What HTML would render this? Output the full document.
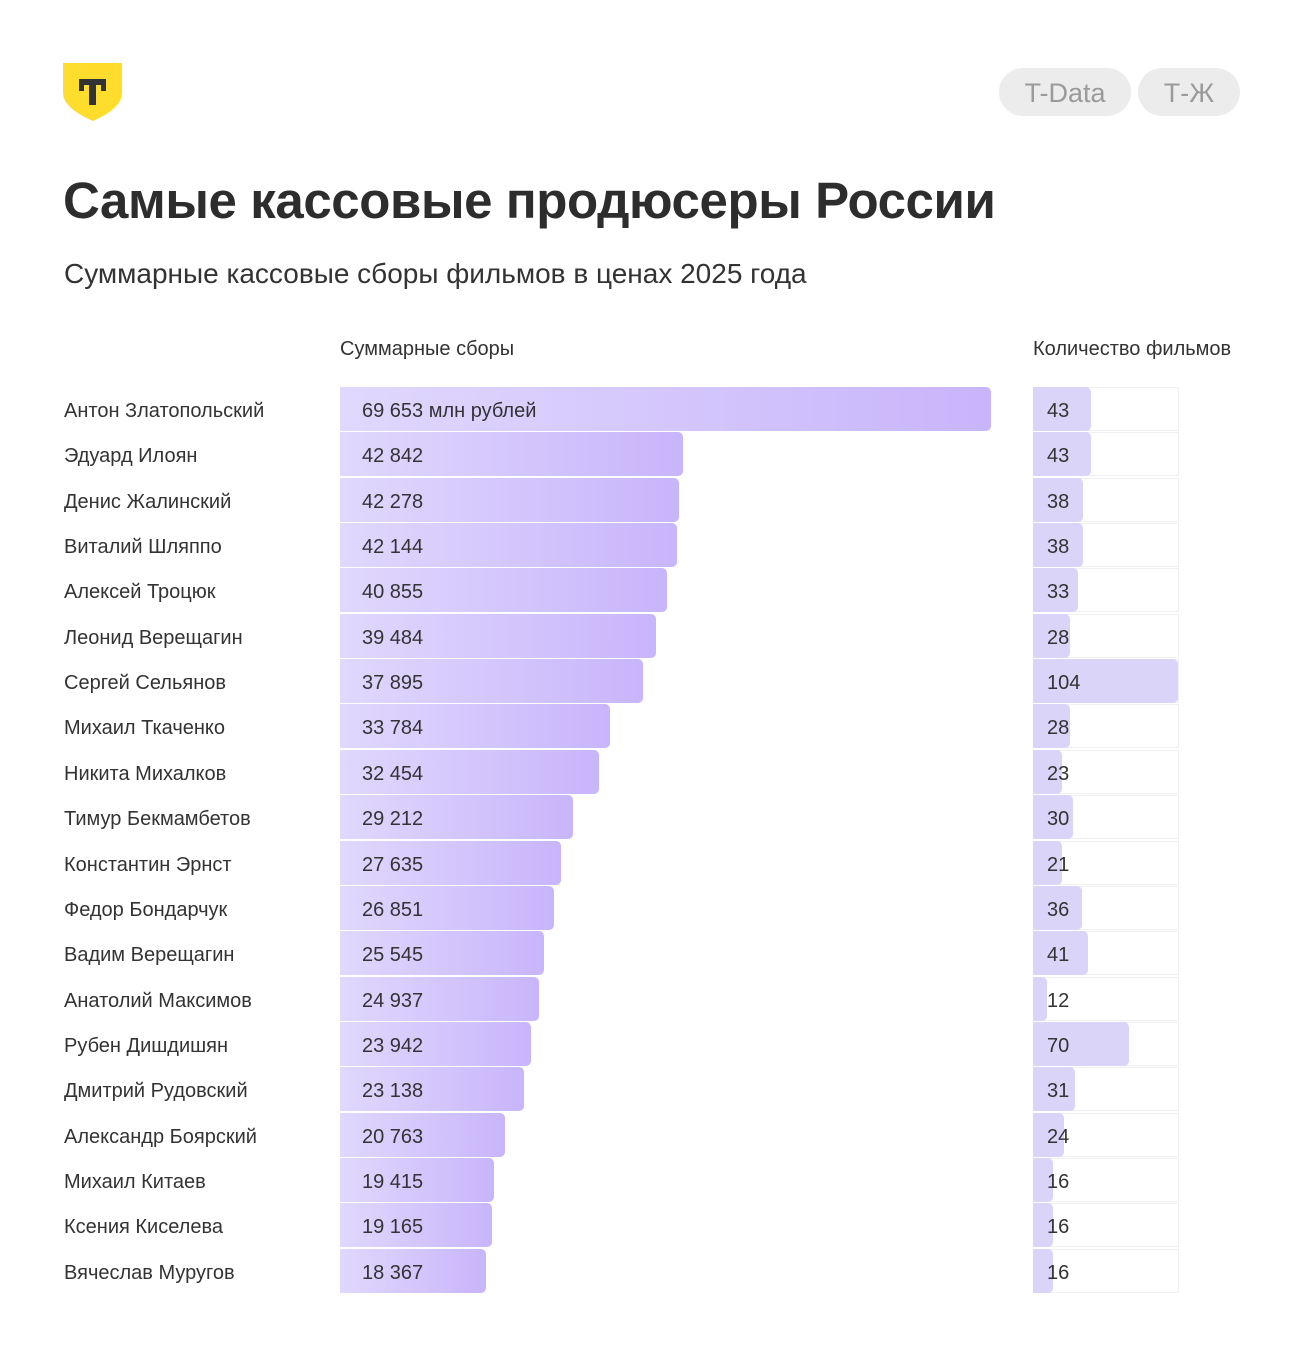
<!DOCTYPE html>
<html><head><meta charset="utf-8"><style>
body{margin:0;width:1303px;height:1358px;background:#fff;font-family:"Liberation Sans",sans-serif;color:#333;position:relative;overflow:hidden}
.abs{position:absolute}
.pill{position:absolute;top:68px;height:48px;border-radius:24px;background:#ececec;color:#9a9a9a;font-size:27px;line-height:50px;text-align:center}
.name{position:absolute;left:64px;font-size:20px;line-height:48px;color:#333}
.bar{position:absolute;left:340px;height:44px;border-radius:0 5px 5px 0;background:linear-gradient(90deg,#e0d8fd,#c8b5fb);font-size:20px;line-height:48px;padding-left:22px;box-sizing:border-box}
.cell{position:absolute;left:1033px;width:146px;height:44px;border:1px solid #f0f0f2;box-sizing:border-box;border-left:none}
.cnt{position:absolute;left:1033px;height:44px;border-radius:0 5px 5px 0;background:#dad4f9;font-size:20px;line-height:48px;padding-left:14px;box-sizing:border-box}
</style></head><body>
<svg class="abs" style="left:63px;top:63px" width="60" height="60" viewBox="0 0 60 60"><path d="M0 0H59V30Q59 45 30 58Q0 45 0 30Z" fill="#ffdd2d"/><path d="M16 16H43V28H38V22H33V42H26V22H21V28H16Z" fill="#333"/></svg>
<div class="pill" style="left:999px;width:132px">T-Data</div>
<div class="pill" style="left:1138px;width:102px">Т-Ж</div>
<div class="abs" style="left:63px;top:171px;font-size:51px;font-weight:bold;letter-spacing:-0.4px;color:#2d2d2d">Самые кассовые продюсеры России</div>
<div class="abs" style="left:64px;top:258px;font-size:28px;color:#333">Суммарные кассовые сборы фильмов в ценах 2025 года</div>
<div class="abs" style="left:340px;top:338px;font-size:20px">Суммарные сборы</div>
<div class="abs" style="left:1033px;top:338px;font-size:20px">Количество фильмов</div>
<div id="rows"></div>
<script>
var d=[["Антон Златопольский","69 653 млн рублей",991,43,1091],["Эдуард Илоян","42 842",683,43,1091],["Денис Жалинский","42 278",679,38,1083],["Виталий Шляппо","42 144",677,38,1083],["Алексей Троцюк","40 855",667,33,1078],["Леонид Верещагин","39 484",656,28,1070],["Сергей Сельянов","37 895",643,104,1178],["Михаил Ткаченко","33 784",610,28,1070],["Никита Михалков","32 454",599,23,1062],["Тимур Бекмамбетов","29 212",573,30,1073],["Константин Эрнст","27 635",561,21,1062],["Федор Бондарчук","26 851",554,36,1082],["Вадим Верещагин","25 545",544,41,1088],["Анатолий Максимов","24 937",539,12,1047],["Рубен Дишдишян","23 942",531,70,1129],["Дмитрий Рудовский","23 138",524,31,1075],["Александр Боярский","20 763",505,24,1064],["Михаил Китаев","19 415",494,16,1053],["Ксения Киселева","19 165",492,16,1053],["Вячеслав Муругов","18 367",486,16,1053]];
var h="";d.forEach(function(r,i){var t=387+i*45.35;
h+='<div class="name" style="top:'+t+'px">'+r[0]+'</div><div class="bar" style="top:'+t+'px;width:'+(r[2]-340)+'px">'+r[1]+'</div><div class="cell" style="top:'+t+'px"></div><div class="cnt" style="top:'+t+'px;width:'+(r[4]-1033)+'px">'+r[3]+'</div>';});
document.getElementById("rows").innerHTML=h;
</script>
</body></html>
